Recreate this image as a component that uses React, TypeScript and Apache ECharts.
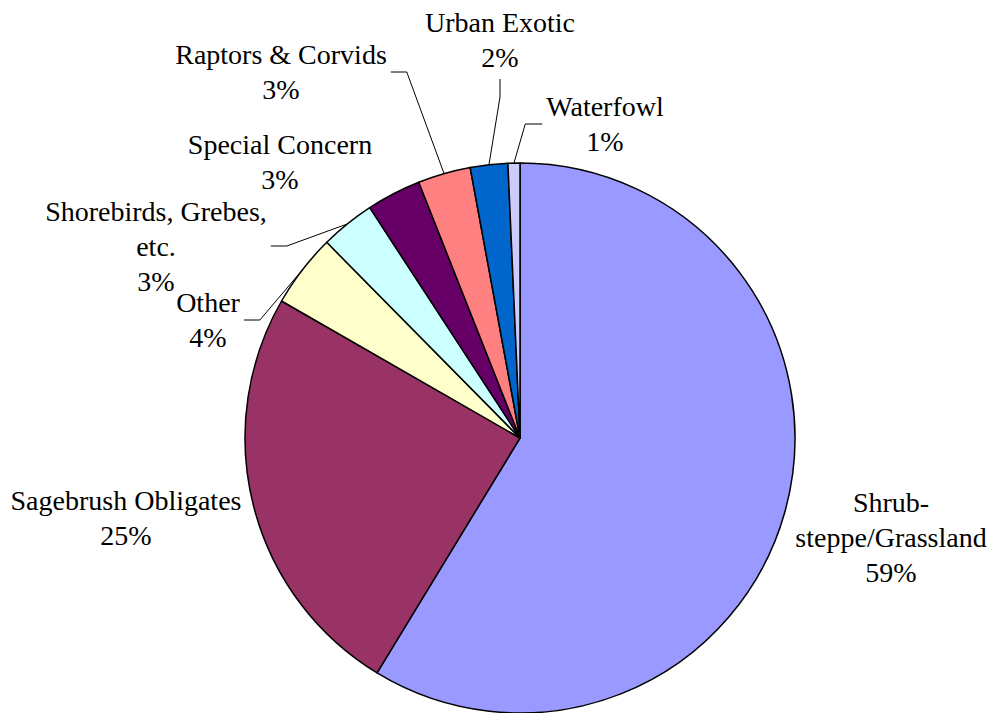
import React, { useEffect, useRef } from 'react';
import * as echarts from 'echarts';

// ---- data ----
const categories = [
  'Shrub-steppe/Grassland',
  'Sagebrush Obligates',
  'Other',
  'Shorebirds, Grebes, etc.',
  'Special Concern',
  'Raptors & Corvids',
  'Urban Exotic',
  'Waterfowl',
];
const labelNames = [
  'Shrub-\nsteppe/Grassland',
  'Sagebrush Obligates',
  'Other',
  'Shorebirds, Grebes,\netc.',
  'Special Concern',
  'Raptors & Corvids',
  'Urban Exotic',
  'Waterfowl',
];
const values = [58.7, 24.6, 4.3, 3.2, 3.2, 3.1, 2.2, 0.7];

// ---- styles / layout ----
const colors = ['#9999FF', '#993366', '#FFFFCC', '#CCFFFF', '#660066', '#FF8080', '#0066CC', '#CCCCFF'];
const labelCenters: [number, number][] = [
  [891, 537],
  [126, 518],
  [208, 320],
  [156, 246],
  [280, 162],
  [281, 72],
  [500, 40],
  [605, 124],
];
// leader line modes: '' none, 'left' label left of slice, 'right' label right of slice, 'bottom' line from below label
const leaderModes = ['', '', 'left', 'left', '', 'left', 'bottom', 'right'];
const FONT = '"Liberation Serif", "Times New Roman", "DejaVu Serif", serif';

export default function App() {
  const ref = useRef<HTMLDivElement>(null);
  useEffect(() => {
    const chart = echarts.init(ref.current!, null, { renderer: 'svg' });
    chart.setOption({
      animation: false,
      backgroundColor: '#ffffff',
      textStyle: { fontFamily: FONT },
      series: [
        {
          type: 'pie',
          center: [520, 438],
          radius: 275,
          startAngle: 90,
          clockwise: true,
          avoidLabelOverlap: false,
          emphasis: { disabled: true },
          itemStyle: { borderColor: '#000', borderWidth: 1.5 },
          label: {
            show: true,
            position: 'outside',
            fontFamily: FONT,
            fontSize: 28,
            lineHeight: 35,
            color: '#000',
            align: 'center',
            formatter: (p: any) => `${labelNames[p.dataIndex]}\n${Math.round(p.percent)}%`,
          },
          labelLine: { show: true, lineStyle: { color: '#000', width: 1 } },
          labelLayout: (p: any) => {
            const i = p.dataIndex;
            const [x, y] = labelCenters[i];
            const w = p.labelRect.width;
            const h = p.labelRect.height;
            const res: any = { x, y, align: 'center', verticalAlign: 'middle' };
            const mode = leaderModes[i];
            const pts = p.labelLinePoints;
            if (mode && pts && pts[0]) {
              const end = pts[0];
              let s: number[];
              let e: number[];
              if (mode === 'left') {
                s = [x + w / 2 + 4, y];
                e = [s[0] + 16, y];
              } else if (mode === 'right') {
                s = [x - w / 2 - 4, y];
                e = [s[0] - 17, y];
              } else {
                s = [x, y + h / 2 + 4];
                e = [x, s[1] + 18];
              }
              res.labelLinePoints = [end, e, s];
            }
            return res;
          },
          data: categories.map((name, i) => ({
            name,
            value: values[i],
            itemStyle: { color: colors[i] },
            labelLine: { show: leaderModes[i] !== '' },
          })),
        },
      ],
    });
    return () => chart.dispose();
  }, []);
  return (
    <div
      ref={ref}
      style={{ position: 'fixed', left: 0, top: 0, width: 992, height: 713, background: '#fff' }}
    />
  );
}
